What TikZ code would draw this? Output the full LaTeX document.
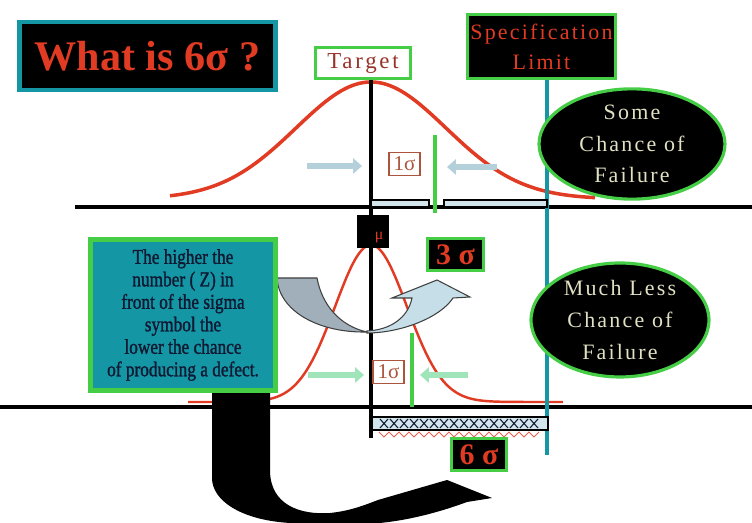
\documentclass[tikz,border=0pt]{standalone}
\usepackage{fontspec}
\setmainfont{Liberation Serif}
\newfontfamily\spacedfont[LetterSpace=10]{Liberation Serif}
\newfontfamily\widefont[LetterSpace=12]{Liberation Serif}
\newfontfamily\notefont[FakeStretch=0.82, FakeBold=1.2]{Liberation Serif}
\usepackage{xcolor}
\definecolor{sigmared}{RGB}{225,60,35}
\definecolor{tealsix}{RGB}{20,150,165}
\definecolor{glowgreen}{RGB}{70,205,70}
\definecolor{paleblue}{RGB}{180,208,218}
\definecolor{palegreen}{RGB}{160,228,185}
\definecolor{brownlabel}{RGB}{170,85,60}
\definecolor{targetred}{RGB}{150,50,40}
\definecolor{beige}{RGB}{225,225,195}
\definecolor{ribbondark}{RGB}{160,175,185}
\definecolor{ribbonlight}{RGB}{198,222,232}
\definecolor{barfill}{RGB}{210,228,236}
\definecolor{navytext}{RGB}{15,25,50}
\usetikzlibrary{arrows.meta, shapes.geometric}

\begin{document}
\begin{tikzpicture}[
    x=0.02cm, y=-0.02cm,
    darkbox/.style={rectangle, draw=glowgreen, line width=1.6pt, fill=black, text=sigmared, inner sep=0pt},
    sigmabox/.style={rectangle, draw=brownlabel, line width=0.7pt, fill=white, text=brownlabel, font=\fontsize{12}{12}\selectfont, inner sep=0pt, minimum width=0.62cm, minimum height=0.46cm},
    chance/.style={ellipse, draw=glowgreen, line width=1.8pt, fill=black, text=beige, align=center, inner sep=0pt, font=\spacedfont\fontsize{12.5}{18}\selectfont},
    bell/.style={draw=sigmared, line width=2pt, smooth},
    axis/.style={line width=2pt},
    speclim/.style={draw=tealsix, line width=2.3pt},
    sigmaline/.style={draw=glowgreen, line width=1.8pt},
    pointer/.style={line width=3pt, -{Triangle[length=5pt, width=8.5pt]}}
]
\useasboundingbox[fill=white] (0,0) rectangle (752,523);

% Curves
\draw[bell] plot[domain=170:595, samples=90] (\x, {199-117*exp(-((\x-371)/75)^2/2)});
\draw[bell, line width=1.4pt] plot[domain=188:563, samples=110] (\x, {402-157*exp(-((\x-371)/36)^2/2)});

% Lines
\draw[axis] (75,207) -- (752,207);
\draw[axis] (0,407) -- (752,407);
\draw[axis] (371,80) -- (371,438);
\draw[speclim] (547,80) -- (547,455);

% Bars
\draw[fill=barfill, line width=1pt] (371,200) rectangle (429,207);
\draw[fill=barfill, line width=1pt] (444,200) rectangle (547,207);
\draw[fill=barfill, line width=1.2pt] (372,417) rectangle (548,430);
\foreach \i in {0,...,15} {
  \draw[navytext, line width=0.6pt] ({384+\i*10-4},419) -- ({384+\i*10+4},428)
    ({384+\i*10-4},428) -- ({384+\i*10+4},419);
}
\draw[sigmared!80, line width=0.5pt] (379,432)
  \foreach \i in {0,...,15} { -- ({384+\i*10},437) -- ({389+\i*10},432) };

% Sigma lines
\draw[sigmaline] (435,135) -- (435,213);
\draw[sigmaline] (412,333) -- (412,407);

% Arrows
\coordinate (lb1) at (307,166);
\coordinate (lb2) at (362,166);
\coordinate (rb1) at (497,167);
\coordinate (rb2) at (447,167);
\coordinate (lg1) at (308,375);
\coordinate (lg2) at (364,375);
\coordinate (rg1) at (468,375);
\coordinate (rg2) at (420,375);
\draw[pointer, paleblue] (lb1) -- (lb2);
\draw[pointer, paleblue] (rb1) -- (rb2);
\draw[pointer, palegreen] (lg1) -- (lg2);
\draw[pointer, palegreen] (rg1) -- (rg2);

% Ribbon arrow
\filldraw[fill=ribbondark, draw=black!75, line width=0.6pt]
  (277,278) -- (317,278) .. controls (322,305) and (340,326) .. (367,332)
  .. controls (320,333) and (279,312) .. (277,278) -- cycle;
\filldraw[fill=ribbonlight, draw=black!75, line width=0.6pt]
  (367,333) .. controls (400,333) and (440,318) .. (453,298) -- (470,297)
  -- (437,280) -- (392,298) -- (412,298)
  .. controls (408,318) and (390,330) .. (367,331) -- cycle;

% Black arrow
\fill[black] (212,390) -- (270,390) -- (270,470)
  .. controls (270,505) and (300,515) .. (330,513)
  .. controls (350,511) and (365,505) .. (378,500)
  -- (447,480) -- (492,498) -- (467,502)
  .. controls (440,512) and (410,520) .. (380,523)
  -- (290,523) .. controls (240,520) and (212,500) .. (212,478) -- cycle;

% Nodes
\node (title) [rectangle, draw=tealsix, line width=2.8pt, fill=black, minimum width=5.12cm, minimum height=1.36cm, text=sigmared, font=\bfseries\fontsize{24}{24}\selectfont] at (147.5,56) {What is 6σ ?};
\node (target) [rectangle, draw=glowgreen, line width=1.6pt, fill=white, minimum width=1.9cm, minimum height=0.62cm, inner sep=0pt, text=targetred, font=\widefont\fontsize{13}{13}\selectfont] at (363,63) {Target};
\node (spec) [darkbox, minimum width=2.96cm, minimum height=1.28cm, align=center, font=\spacedfont\fontsize{12.5}{17}\selectfont] at (541.5,46.5) {Specification\\Limit};
\node (some) [chance, minimum width=3.72cm, minimum height=2.12cm] at (632,144) {Some\\Chance of\\Failure};
\node (less) [chance, minimum width=3.56cm, minimum height=2.28cm] at (620,320) {Much Less\\Chance of\\Failure};
\node (s1up) [sigmabox] at (404.5,164) {1σ};
\node (s1low) [sigmabox] at (388.5,372) {1σ};
\node (mu) [rectangle, fill=black, minimum width=0.64cm, minimum height=0.66cm, inner sep=0pt] at (373,231.5) {};
\node (mulabel) [text=sigmared, inner sep=0pt, font=\fontsize{9}{9}\selectfont] at (379,238) {μ};
\node (three) [darkbox, minimum width=1.12cm, minimum height=0.64cm, font=\bfseries\fontsize{17}{17}\selectfont] at (455.5,254.5) {3 σ};
\node (six) [darkbox, minimum width=1.1cm, minimum height=0.64cm, font=\bfseries\fontsize{17}{17}\selectfont] at (479,454.5) {6 σ};
\node (note) [rectangle, draw=glowgreen, line width=2.8pt, fill=tealsix, minimum width=3.7cm, minimum height=3.02cm, text=navytext, align=center, font=\notefont\fontsize{12}{12.8}\selectfont] at (183,315) {The higher the\\number ( Z) in\\front of the sigma\\symbol the\\lower the chance\\of producing a defect.};

\end{tikzpicture}
\end{document}
